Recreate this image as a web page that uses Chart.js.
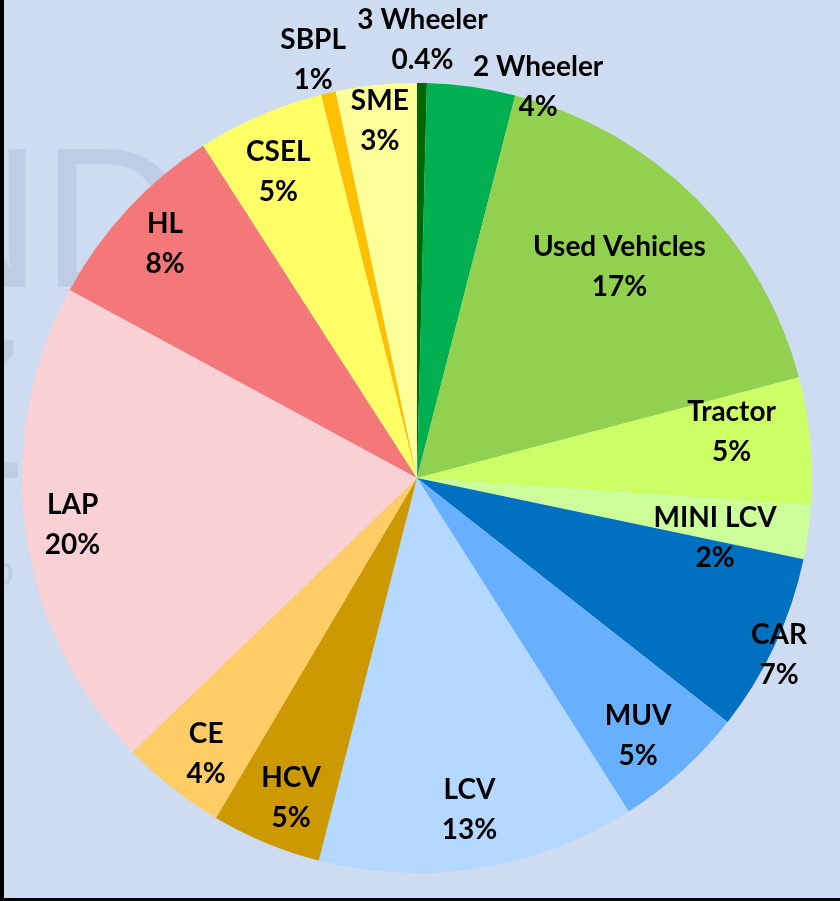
<!DOCTYPE html>
<html>
<head>
<meta charset="utf-8">
<script src="https://cdn.jsdelivr.net/npm/chart.js@4.4.1/dist/chart.umd.min.js"></script>
<style>
  html, body { margin: 0; padding: 0; background: #cddcf1; }
  #wrap { position: relative; width: 840px; height: 901px; }
</style>
</head>
<body>
<div id="wrap"><canvas id="myChart" width="840" height="901"></canvas></div>
<script>
// portfolio mix, clockwise from 12 o'clock
var segments = ['3 Wheeler', '2 Wheeler', 'Used Vehicles', 'Tractor', 'MINI LCV', 'CAR', 'MUV',
    'LCV', 'HCV', 'CE', 'LAP', 'HL', 'CSEL', 'SBPL', 'SME'];
var shares = [0.4, 3.6, 16.9, 5.2, 2.2, 7.3, 5.4, 13.0, 4.5, 4.3, 20.1, 8.0, 5.2, 0.6, 3.3];
var sliceColors = ['#006600', '#00b050', '#92d050', '#ccff66', '#ccff99', '#0070c0', '#66b0ff',
    '#b4d8ff', '#cc9900', '#ffcc66', '#f9d0d3', '#f4787a', '#ffff66', '#ffc000', '#ffff99'];

// label distance from centre (fraction of radius) and small angle nudges (deg)
var labelRadius = [1.11, 1.036, 0.74, 0.805, 0.77, 1.02, 0.86, 0.85, 0.87, 0.88, 0.88, 0.87, 0.85, 1.09, 0.91];
var labelNudge = [0, 9.3, -1, -3, 3.5, 1, 1.5, 0, -1, -1, 0, 0, -1, -1, 0];

function pctText(v) {
    return v < 0.5 ? v.toFixed(1) + '%' : Math.round(v) + '%';
}

var backdrop = {
    id: 'backdrop',
    beforeDraw: function(chart) {
        var c = chart.ctx;
        c.save();
        c.fillStyle = '#cddcf1';
        c.fillRect(0, 0, chart.width, chart.height);
        // faded logo behind the pie
        c.fillStyle = 'rgba(150, 170, 195, 0.28)';
        c.font = '200px "Liberation Sans"';
        c.textAlign = 'right';
        c.textBaseline = 'alphabetic';
        c.fillText('ND', 186, 287);
        c.fillText('Z', 24, 478);
        c.font = '40px "Liberation Sans"';
        c.fillText('p', 14, 585);
        c.restore();
    },
    afterDraw: function(chart) {
        var c = chart.ctx;
        c.save();
        c.fillStyle = '#000';
        c.fillRect(0, 0, 4, chart.height);
        c.fillRect(0, chart.height - 3, chart.width, 3);
        c.restore();
    }
};

var sliceLabels = {
    id: 'sliceLabels',
    afterDatasetsDraw: function(chart) {
        var c = chart.ctx;
        var arcs = chart.getDatasetMeta(0).data;
        c.save();
        c.fillStyle = '#000';
        c.font = 'bold 28px Lato';
        c.textBaseline = 'middle';
        c.textAlign = 'center';
        arcs.forEach(function(arc, i) {
            var mid = (arc.startAngle + arc.endAngle) / 2 + labelNudge[i] * Math.PI / 180;
            var r = arc.outerRadius * labelRadius[i];
            var x = arc.x + Math.cos(mid) * r;
            var y = arc.y + Math.sin(mid) * r;
            c.fillText(segments[i], x, y - 20);
            c.fillText(pctText(shares[i]), x, y + 20);
        });
        c.restore();
    }
};

var ctx = document.getElementById('myChart');
var pieChart = new Chart(ctx, {
    type: 'pie',
    data: {
        labels: segments,
        datasets: [
            {
                data: shares,
                backgroundColor: sliceColors,
                borderWidth: 0
            }
        ]
    },
    options: {
        responsive: false,
        animation: false,
        layout: { padding: { left: 22, right: 28, top: 83, bottom: 28 } },
        plugins: {
            legend: { display: false },
            tooltip: { enabled: false }
        }
    },
    plugins: [backdrop, sliceLabels]
});
</script>
</body>
</html>
